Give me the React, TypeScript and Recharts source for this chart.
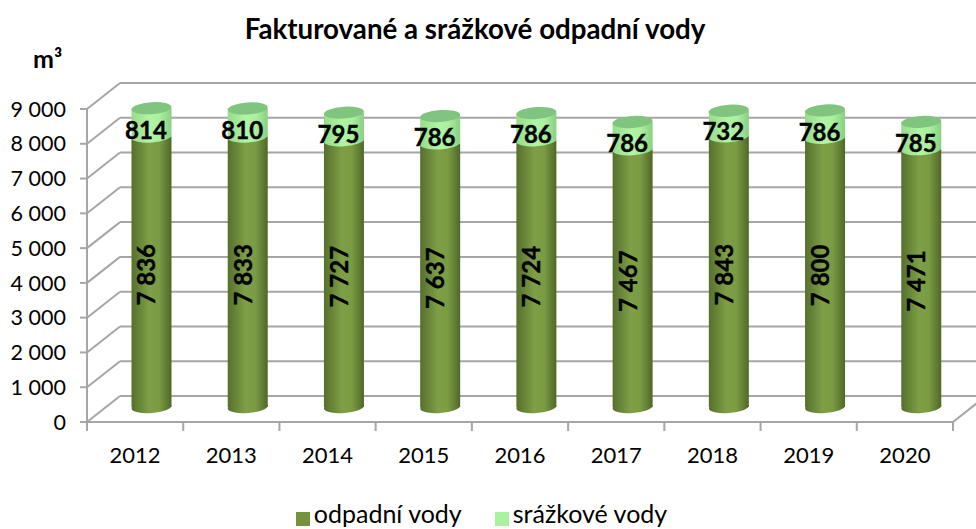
import React from "react";
import { BarChart, Bar, XAxis, YAxis, CartesianGrid, Legend, LabelList } from "recharts";

const years = ["2012", "2013", "2014", "2015", "2016", "2017", "2018", "2019", "2020"];
const wasteWater = [7836, 7833, 7727, 7637, 7724, 7467, 7843, 7800, 7471];
const rainWater = [814, 810, 795, 786, 786, 786, 732, 786, 785];
const yTicks = [0, 1000, 2000, 3000, 4000, 5000, 6000, 7000, 8000, 9000];
const titleText = "Fakturované a srážkové odpadní vody";
const unitText = "m³";

const rows = years.map((year, i) => ({ year, waste: wasteWater[i], rain: rainWater[i] }));

const FONT = "Lato, 'Open Sans', sans-serif";
const GRID = "#a6a6a6";
const DX = 33; // depth of the 3D box
const DY = 26;
const BAR_DX = 16.5;
const BAR_DY = 13;
const RY = 6;
const fmt = (v: number) => String(v).replace(/\B(?=(\d{3})+$)/g, " ");

const Gridline = (p: any) => {
  const { x1, y1, x2 } = p;
  return (
    <g>
      <line x1={x1} y1={y1} x2={x1 + DX} y2={y1 - DY} stroke={GRID} strokeWidth={2} />
      <line x1={x1 + DX} y1={y1 - DY} x2={x2 + DX} y2={y1 - DY} stroke={GRID} strokeWidth={2} />
    </g>
  );
};

const XTick = (p: any) => {
  const { x, y, index } = p;
  const band = 866 / years.length;
  const left = x - band / 2;
  const right = x + band / 2;
  return (
    <g>
      <line x1={left} y1={y - 8} x2={left} y2={y + 1} stroke={GRID} strokeWidth={2} />
      {index === years.length - 1 && (
        <>
          <line x1={right} y1={y - 8} x2={right} y2={y + 1} stroke={GRID} strokeWidth={2} />
          <line x1={right} y1={y - 8} x2={right + DX} y2={y - 8 - DY} stroke={GRID} strokeWidth={2} />
        </>
      )}
      <text x={x} y={y + 33} textAnchor="middle" fontFamily={FONT} fontSize={22} fill="#000">
        {p.payload.value}
      </text>
    </g>
  );
};

const WasteShape = (p: any) => {
  const { x, y, width, height } = p;
  const X = x + BAR_DX;
  const Y = y - BAR_DY;
  const cx = X + width / 2;
  const bottom = Y + height - 2;
  return (
    <g>
      <ellipse cx={cx} cy={bottom} rx={width / 2} ry={RY} fill="url(#wasteSide)" transform={`rotate(-4 ${cx} ${bottom})`} />
      <rect x={X} y={Y} width={width} height={height - 2} fill="url(#wasteSide)" />
    </g>
  );
};

const RainShape = (p: any) => {
  const { x, y, width, height } = p;
  const X = x + BAR_DX;
  const Y = y - BAR_DY;
  const cx = X + width / 2;
  return (
    <g>
      <ellipse cx={cx} cy={Y + height} rx={width / 2} ry={RY} fill="url(#rainSide)" transform={`rotate(-4 ${cx} ${Y + height})`} />
      <rect x={X} y={Y} width={width} height={height} fill="url(#rainSide)" />
      <ellipse cx={cx} cy={Y} rx={width / 2} ry={RY} fill="#80c480" transform={`rotate(-4 ${cx} ${Y})`} />
    </g>
  );
};

const WasteLabel = (p: any) => {
  const { x, y, width, height, value } = p;
  const cx = x + width / 2 + 11;
  const cy = y + height / 2 - 11;
  return (
    <text x={cx} y={cy} transform={`rotate(-90 ${cx} ${cy})`} textAnchor="middle" dominantBaseline="central"
      fontFamily={FONT} fontWeight={700} fontSize={24} fill="#000" stroke="#000" strokeWidth={0.4}>
      {fmt(value)}
    </text>
  );
};

const RainLabel = (p: any) => {
  const { x, y, width, height, value } = p;
  return (
    <text x={x + width / 2 + 11} y={y + height / 2 - 6} textAnchor="middle" dominantBaseline="central"
      fontFamily={FONT} fontWeight={700} fontSize={24} fill="#000" stroke="#000" strokeWidth={0.4}>
      {value}
    </text>
  );
};

export default function App() {
  return (
    <div style={{ position: "absolute", left: 0, top: 0, width: 976, height: 529, overflow: "hidden", background: "#fff", fontFamily: FONT }}>
      <div style={{ position: "absolute", left: 0, width: 950, top: 14, textAlign: "center", fontWeight: 700, fontSize: 27.7, lineHeight: "30px", color: "#000" }}>
        {titleText}
      </div>
      <div style={{ position: "absolute", left: 33, top: 44, fontWeight: 700, fontSize: 25, lineHeight: "28px", color: "#000" }}>
        {unitText}
      </div>
      <BarChart
        width={976}
        height={529}
        data={rows}
        barSize={40}
        barCategoryGap={0}
        margin={{ top: 109, right: 23, bottom: 37, left: 7 }}
      >
        <defs>
          <linearGradient id="wasteSide" x1="0" y1="0" x2="1" y2="0">
            <stop offset="0" stopColor="#55702c" />
            <stop offset="0.45" stopColor="#7f9f47" />
            <stop offset="0.7" stopColor="#7a9a43" />
            <stop offset="1" stopColor="#4f6828" />
          </linearGradient>
          <linearGradient id="rainSide" x1="0" y1="0" x2="1" y2="0">
            <stop offset="0" stopColor="#96dc8a" />
            <stop offset="0.45" stopColor="#b0f4a4" />
            <stop offset="0.7" stopColor="#aaf09e" />
            <stop offset="1" stopColor="#88d080" />
          </linearGradient>
        </defs>
        <CartesianGrid horizontal={Gridline as any} vertical={false} />
        <XAxis
          dataKey="year"
          height={40}
          axisLine={{ stroke: GRID, strokeWidth: 2 }}
          tickLine={false}
          tick={XTick as any}
          interval={0}
        />
        <YAxis
          width={80}
          domain={[0, 9000]}
          ticks={yTicks}
          interval={0}
          tickFormatter={fmt}
          axisLine={{ stroke: GRID, strokeWidth: 2 }}
          tickLine={{ stroke: GRID, strokeWidth: 2 }}
          tickSize={7}
          tickMargin={14}
          tick={{ fontFamily: FONT, fontSize: 21.5, fill: "#000" }}
        />
        <Bar dataKey="waste" name="odpadní vody" stackId="a" fill="#76923c" shape={WasteShape as any} isAnimationActive={false}>
          <LabelList dataKey="waste" content={WasteLabel as any} />
        </Bar>
        <Bar dataKey="rain" name="srážkové vody" stackId="a" fill="#a9f29e" shape={RainShape as any} isAnimationActive={false}>
          <LabelList dataKey="rain" content={RainLabel as any} />
        </Bar>
        <Legend
          verticalAlign="bottom"
          align="center"
          iconType="square"
          iconSize={14}
          formatter={(v: string) => <span style={{ color: "#000", fontFamily: FONT, fontSize: 25, marginRight: 23 }}>{v}</span>}
          wrapperStyle={{ bottom: 1, left: 25 }}
        />
      </BarChart>
    </div>
  );
}
